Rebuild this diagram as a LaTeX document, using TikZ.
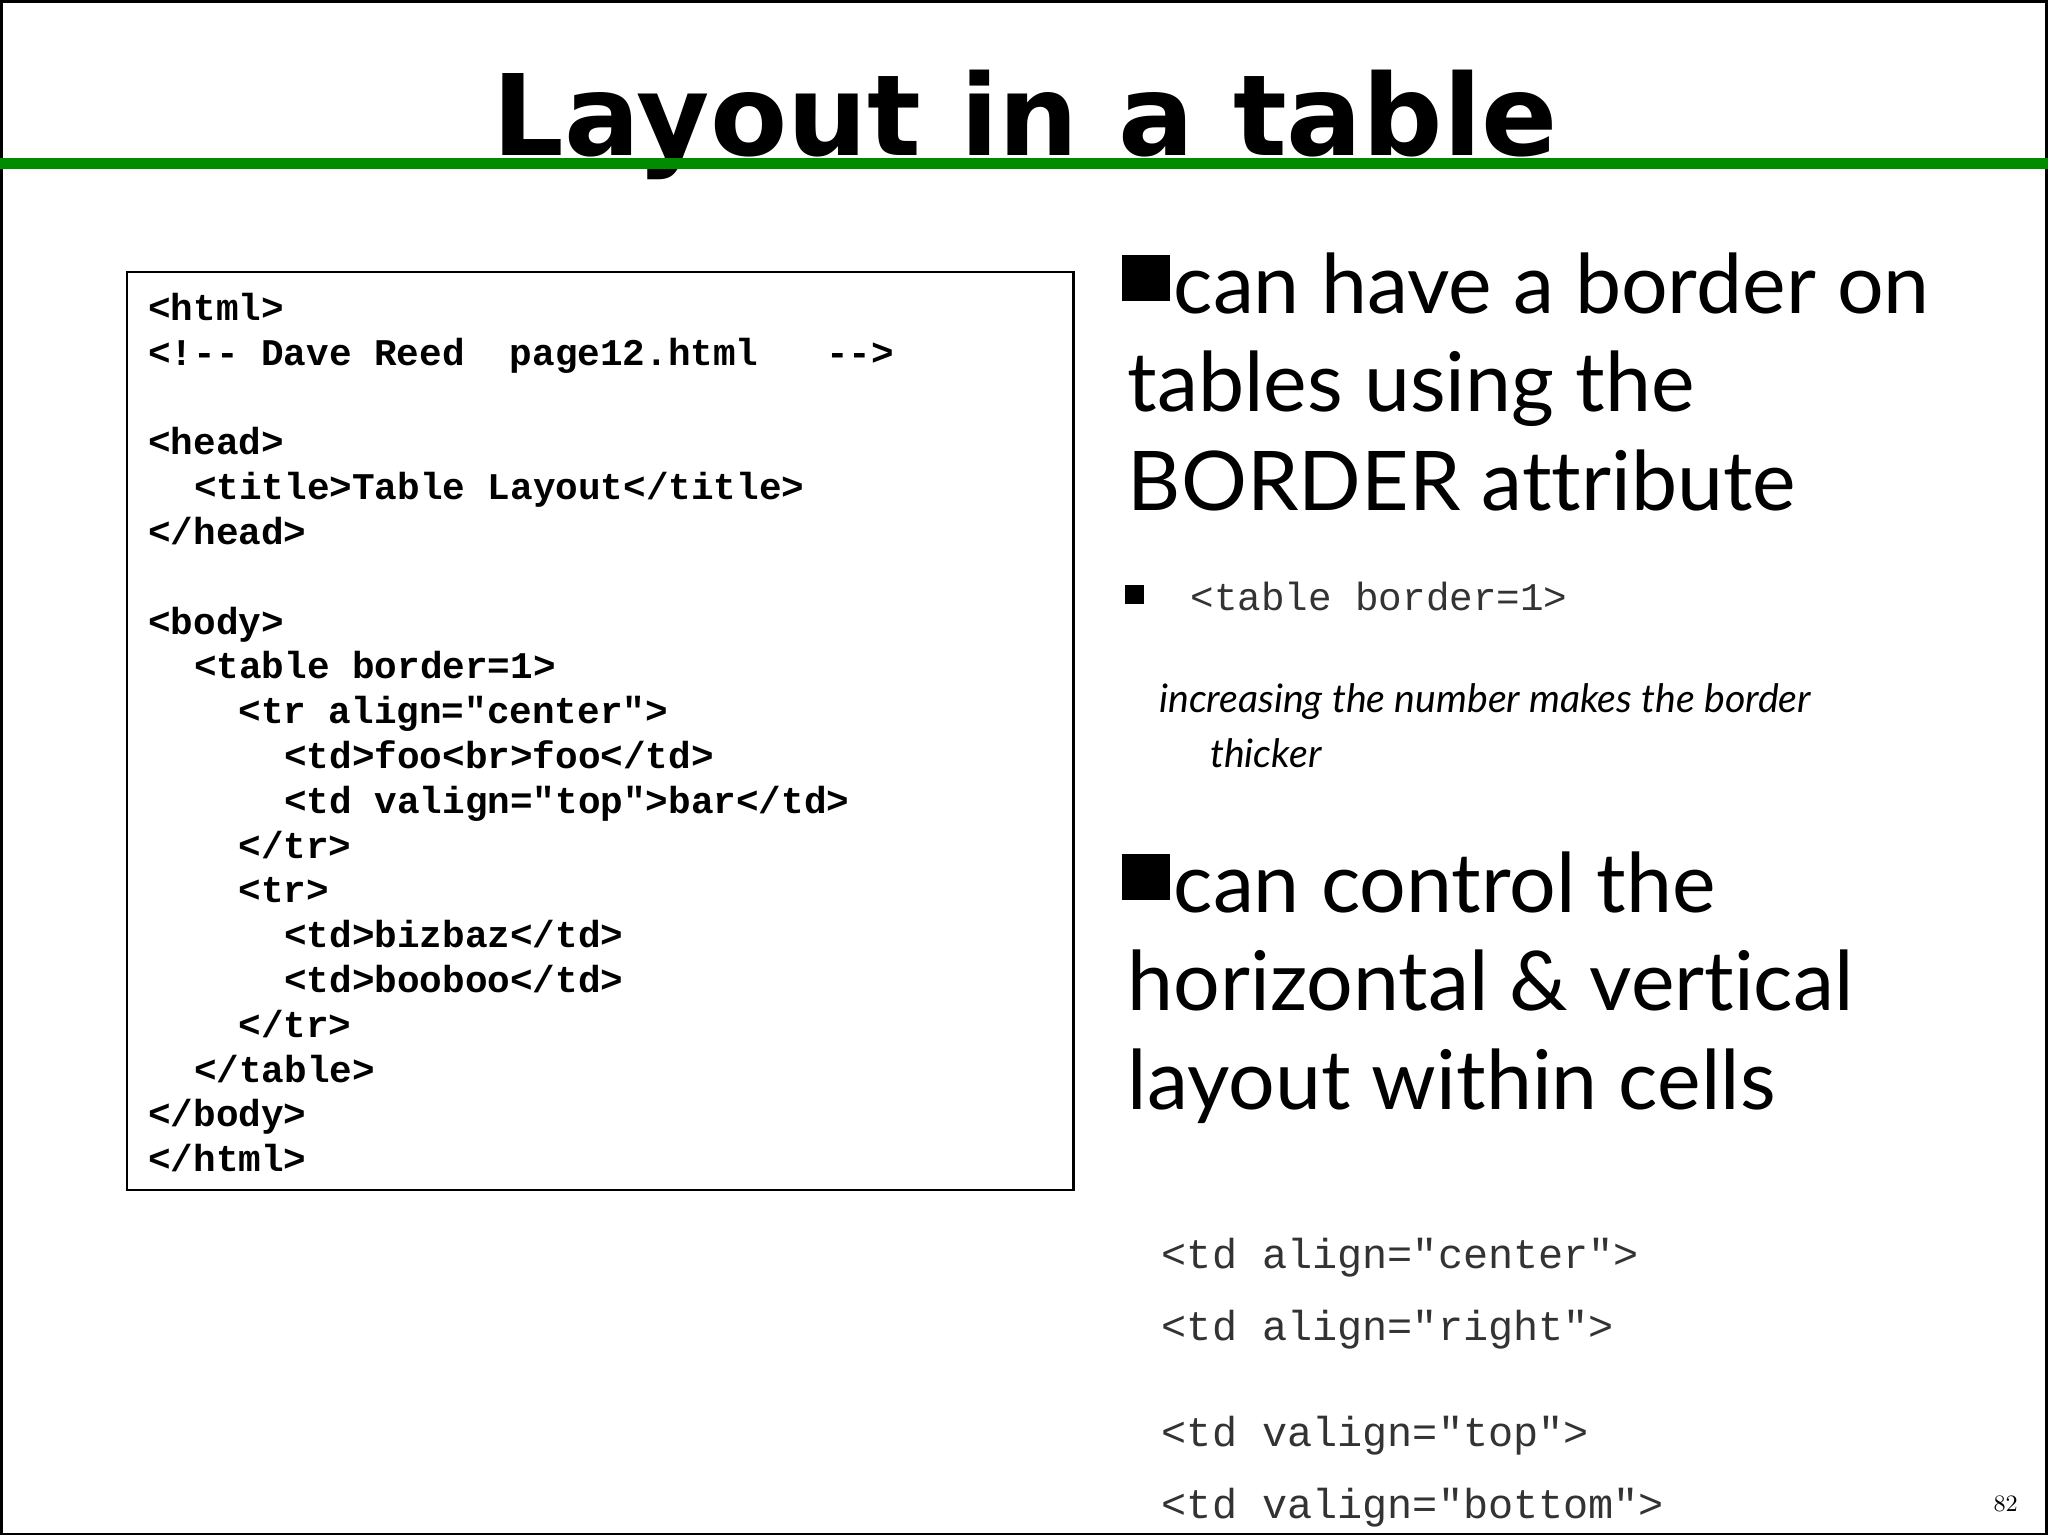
\documentclass[tikz,border=0pt]{standalone}
\usepackage{fontspec}
\setmonofont{Liberation Mono}
\newfontfamily\titlefont{DejaVu Sans}
\newfontfamily\gill[Ligatures=NoCommon]{Lato}
\begin{document}
\begin{tikzpicture}[x=0.5pt,y=-0.5pt,
  code/.style={anchor=base west,inner sep=0,font=\ttfamily\bfseries\fontsize{14.4pt}{17pt}\selectfont},
  big/.style={anchor=base west,inner sep=0,font=\gill\fontsize{31.5pt}{37pt}\selectfont},
  mono/.style={anchor=base west,inner sep=0,text=black!80,font=\ttfamily\fontsize{16pt}{19pt}\selectfont},
  sq/.style={fill=black,draw=none}]
\useasboundingbox (0,0) rectangle (1566,1174);
\draw[line width=1pt] (1,1) rectangle (1565,1173);
\node[anchor=base,inner sep=0,font=\titlefont\bfseries\fontsize{43pt}{50pt}\selectfont] (title) at (784,119) {Layout in a table};
\fill[green!55!black] (0,121) rectangle (1566,129);
\draw[line width=1pt] (97,208) rectangle (821,910);
\def\L{34.26}
\node[code] (c0) at (113,245) {<html>};
\node[code] (c1) at (113,245+\L) {<!-{}- Dave Reed~ page12.html~~ -{}->};
\node[code] (c3) at (113,245+3*\L) {<head>};
\node[code] (c4) at (148,245+4*\L) {<title>Table Layout</title>};
\node[code] (c5) at (113,245+5*\L) {</head>};
\node[code] (c7) at (113,245+7*\L) {<body>};
\node[code] (c8) at (148,245+8*\L) {<table border=1>};
\node[code] (c9) at (182,245+9*\L) {<tr align="center">};
\node[code] (c10) at (217,245+10*\L) {<td>foo<br>foo</td>};
\node[code] (c11) at (217,245+11*\L) {<td valign="top">bar</td>};
\node[code] (c12) at (182,245+12*\L) {</tr>};
\node[code] (c13) at (182,245+13*\L) {<tr>};
\node[code] (c14) at (217,245+14*\L) {<td>bizbaz</td>};
\node[code] (c15) at (217,245+15*\L) {<td>booboo</td>};
\node[code] (c16) at (182,245+16*\L) {</tr>};
\node[code] (c17) at (148,245+17*\L) {</table>};
\node[code] (c18) at (113,245+18*\L) {</body>};
\node[code] (c19) at (113,245+19*\L) {</html>};
% right
\fill (858,195) rectangle (895,230);
\node[big] (b1) at (897,240) {can have a border on};
\node[big] (b2) at (862,315) {tables using the};
\node[big] (b3) at (862,390) {BORDER attribute};
\fill (860,447) rectangle (875,462);
\node[mono,font=\ttfamily\fontsize{15pt}{18pt}\selectfont] (t1) at (910,467) {<table border=1>};
\node[anchor=base west,inner sep=0,font=\gill\itshape\fontsize{15pt}{18pt}\selectfont] (i1) at (886,545) {increasing the number makes the border};
\node[anchor=base west,inner sep=0,font=\gill\itshape\fontsize{15pt}{18pt}\selectfont] (i2) at (925,587) {thicker};
\fill (858,653) rectangle (895,688);
\node[big] (b4) at (897,698) {can control the};
\node[big] (b5) at (862,773) {horizontal \& vertical};
\node[big] (b6) at (862,848) {layout within cells};
\node[mono] (m1) at (888,970) {<td align="center">};
\node[mono] (m2) at (888,1025) {<td align="right">};
\node[mono] (m3) at (888,1106) {<td valign="top">};
\node[mono] (m4) at (888,1161) {<td valign="bottom">};
\node[anchor=base west,inner sep=0,font=\fontsize{9pt}{10pt}\selectfont] (pg) at (1524,1156) {82};
\end{tikzpicture}
\end{document}
